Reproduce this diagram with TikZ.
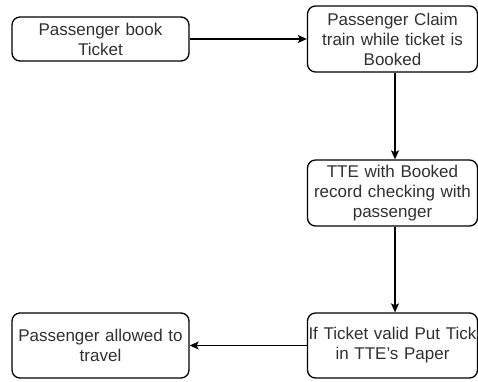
\documentclass[tikz,border=0pt]{standalone}
\usepackage{fontspec}
\setmainfont{Liberation Sans}
\usetikzlibrary{arrows.meta}
\definecolor{txt}{HTML}{303030}
\tikzset{
  box/.style={draw=black, line width=1.3pt, rounded corners=8pt, minimum width=177pt,
    inner sep=0pt, align=center, text width=170pt, text=txt,
    font=\fontsize{17pt}{20pt}\selectfont},
  conn/.style={draw=black, line width=1.3pt, -{Stealth[length=9pt,width=8pt,inset=2pt]}}
}
\begin{document}
\begin{tikzpicture}[x=1pt,y=-1pt]
\useasboundingbox (0,0) rectangle (478,381);
\clip (0,0) rectangle (478,381);
\node[box, minimum height=44pt] (b1) at (100.5,39) {Passenger book\\Ticket};
\node[box, minimum height=66pt, minimum width=170pt] (b2) at (392.5,39) {Passenger Claim\\train while ticket is\\Booked};
\node[box, minimum height=66pt, minimum width=170pt] (b3) at (392.5,193) {TTE with Booked\\record checking with\\passenger};
\node[box, minimum height=65pt, minimum width=170pt] (b4) at (392.5,345.5) {\makebox[170pt][l]{\hspace*{1pt}If Ticket valid Put Ticket}\\in TTE's Paper};
\node[box, minimum height=65pt] (b5) at (100.5,345.5) {Passenger allowed to\\travel};
\draw[conn] (b1.east) -- (b2.west |- b1.east);
\draw[conn] (b2.south -| 395,0) -- (b3.north -| 395,0);
\draw[conn] (b3.south -| 395,0) -- (b4.north -| 395,0);
\draw[conn] (b4.west) -- (b5.east);
\end{tikzpicture}
\end{document}
